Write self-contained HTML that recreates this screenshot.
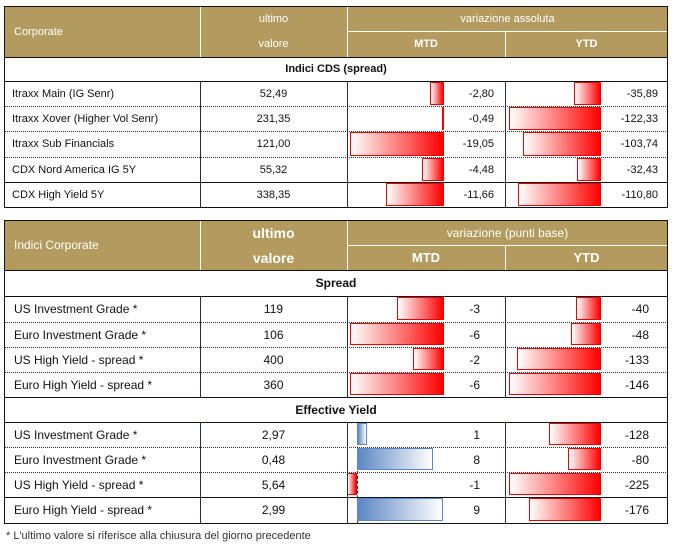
<!DOCTYPE html>
<html><head><meta charset="utf-8"><style>
body{margin:0;width:673px;height:545px;background:#fff;position:relative;overflow:hidden;font-family:"Liberation Sans",sans-serif;color:#111}
div{position:absolute;box-sizing:border-box}
.hd{background:#b39a5f;color:#fff}
.t{white-space:nowrap;font-size:11px;line-height:12px}
</style></head><body>
<script>
const t1Names=["Itraxx Main (IG Senr)","Itraxx Xover (Higher Vol Senr)","Itraxx Sub Financials","CDX Nord America IG 5Y","CDX High Yield 5Y"];
const t1Last=["52,49","231,35","121,00","55,32","338,35"];
const t1Mtd=[-2.80,-0.49,-19.05,-4.48,-11.66];
const t1Ytd=[-35.89,-122.33,-103.74,-32.43,-110.80];
const spNames=["US Investment Grade *","Euro Investment Grade *","US High Yield  - spread *","Euro High Yield  - spread *"];
const spLast=["119","106","400","360"];
const spMtd=[-3,-6,-2,-6];
const spYtd=[-40,-48,-133,-146];
const eyNames=["US Investment Grade *","Euro Investment Grade *","US High Yield  - spread *","Euro High Yield  - spread *"];
const eyLast=["2,97","0,48","5,64","2,99"];
const eyMtd=[1,8,-1,9];
const eyYtd=[-128,-80,-225,-176];

const B=document.body;
function el(x,y,w,h,cls,txt,name,css){const d=document.createElement('div');d.style.cssText=`left:${x}px;top:${y}px;width:${w}px;height:${h}px;`+(css||'');if(cls)d.className=cls;if(txt!==undefined)d.textContent=txt;


B.appendChild(d);return d;}
function fmt(v,dec){return dec?v.toFixed(2).replace('.',','):String(v);}
function maxAbs(a){return Math.max(...a.map(Math.abs));}
function bar(zero,scale,v,y,h,name){
  const w=Math.abs(v)*scale;
  if(v<0){el(zero-w,y,Math.max(w,2),h,'','',name,'background:linear-gradient(to right,#fff,#f00);border:1px solid #e00;');}
  else{el(zero,y,Math.max(w,2),h,'','',name,'background:linear-gradient(to right,#5c86c4,#fff);border:1px solid #5c86c4;');}
}
function txt(x,y,w,h,s,align,name,css){el(x,y,w,h,'t',s,name,`display:flex;align-items:center;justify-content:${align};`+(css||''));}
function vline(x,y1,y2){el(x,y1,1,y2-y1,'',undefined,'column-divider','background:#1d3045');}
function hline(y,dotted){el(4,y,664,1,'',undefined,'row-divider',dotted?'border-top:1px dotted #333;height:1px':'background:#111');}

// ---------- Table 1 ----------
el(4,6,664,51,'hd',undefined,'table1-header');
txt(14,6,180,51,'Corporate','flex-start','header-corporate','color:#fff');
txt(200,6,147,25,'ultimo','center','header-ultimo','color:#fff');
txt(200,31,147,26,'valore','center','header-valore','color:#fff');
txt(347,6,321,25,'variazione assoluta','center','header-variazione','color:#fff');
el(347,31,321,1,'',undefined,'header-subline','background:#fff');
txt(347,31,158,26,'MTD','center','header-mtd','color:#fff;font-weight:bold');
txt(505,31,163,26,'YTD','center','header-ytd','color:#fff;font-weight:bold');
el(200,6,1,51,'',undefined,'header-divider','background:#fff');
el(347,6,1,51,'',undefined,'header-divider','background:#fff');
el(505,31,1,26,'',undefined,'header-divider','background:#fff');
txt(4,57,664,24,'Indici CDS (spread)','center','section-cds','font-weight:bold');
hline(57,false);hline(81,false);
const r1=[81,106,131,157,182,207];
const s1m=94/maxAbs(t1Mtd), s1y=92/maxAbs(t1Ytd);
for(let i=0;i<t1Names.length;i++){
  const y=r1[i],h=r1[i+1]-y;
  txt(12,y,188,h,t1Names[i],'flex-start','row-name');
  txt(200,y,147,h,t1Last[i],'center','row-last');
  bar(444,s1m,t1Mtd[i],y+1,h-2,'bar-mtd');
  txt(444,y,50,h,fmt(t1Mtd[i],1),'flex-end','value-mtd');
  bar(601,s1y,t1Ytd[i],y+1,h-2,'bar-ytd');
  txt(597,y,61,h,fmt(t1Ytd[i],1),'flex-end','value-ytd');
  if(i<4)hline(r1[i+1],i!==3);
}
hline(207,false);
vline(200,81,207);vline(347,81,207);vline(505,81,207);
el(4,6,664,202,'',undefined,'table1-border','border:1px solid #111');

// ---------- Table 2 ----------
el(4,220,664,50,'hd',undefined,'table2-header');
txt(14,220,180,50,'Indici Corporate','flex-start','header-indici','color:#fff;font-size:12px');
txt(200,220,147,25,'ultimo','center','header-ultimo','color:#fff;font-size:14px;font-weight:bold');
txt(200,245,147,25,'valore','center','header-valore','color:#fff;font-size:14px;font-weight:bold');
txt(347,220,321,25,'variazione (punti base)','center','header-variazione','color:#fff;font-size:12px');
el(347,245,321,1,'',undefined,'header-subline','background:#fff');
txt(347,245,158,25,'MTD','center','header-mtd','color:#fff;font-weight:bold;font-size:13px');
txt(505,245,163,25,'YTD','center','header-ytd','color:#fff;font-weight:bold;font-size:13px');
el(200,220,1,50,'',undefined,'header-divider','background:#fff');
el(347,220,1,50,'',undefined,'header-divider','background:#fff');
el(505,245,1,25,'',undefined,'header-divider','background:#fff');
txt(4,270,664,26,'Spread','center','section-spread','font-weight:bold;font-size:12px');
hline(270,false);hline(296,false);
const r2=[296,322,347,372,397];
const s2m=94/maxAbs(spMtd), s2y=92/maxAbs(spYtd);
for(let i=0;i<spNames.length;i++){
  const y=r2[i],h=r2[i+1]-y;
  txt(14,y,186,h,spNames[i],'flex-start','row-name','font-size:12px');
  txt(200,y,147,h,spLast[i],'center','row-last','font-size:12px');
  bar(444,s2m,spMtd[i],y+1,h-3,'bar-mtd');
  txt(440,y,40,h,fmt(spMtd[i],0),'flex-end','value-mtd','font-size:12px');
  bar(601,s2y,spYtd[i],y+1,h-3,'bar-ytd');
  txt(603,y,46,h,fmt(spYtd[i],0),'flex-end','value-ytd','font-size:12px');
  if(i<3)hline(r2[i+1],true);
}
hline(397,false);
vline(200,296,397);vline(347,296,397);vline(505,296,397);
txt(4,397,664,25,'Effective Yield','center','section-effective-yield','font-weight:bold;font-size:12px');
hline(422,false);
const r3=[422,447,472,497,523];
const s3m=86/maxAbs(eyMtd), s3y=92/maxAbs(eyYtd);
el(357,422,1,101,'',undefined,'zero-axis','border-left:1px dashed #222');
for(let i=0;i<eyNames.length;i++){
  const y=r3[i],h=r3[i+1]-y;
  txt(14,y,186,h,eyNames[i],'flex-start','row-name','font-size:12px');
  txt(200,y,147,h,eyLast[i],'center','row-last','font-size:12px');
  bar(357,s3m,eyMtd[i],y+1,h-3,'bar-mtd');
  txt(440,y,40,h,fmt(eyMtd[i],0),'flex-end','value-mtd','font-size:12px');
  bar(601,s3y,eyYtd[i],y+1,h-3,'bar-ytd');
  txt(603,y,46,h,fmt(eyYtd[i],0),'flex-end','value-ytd','font-size:12px');
  if(i<3)hline(r3[i+1],i!==2);
}
vline(200,422,523);vline(347,422,523);vline(505,422,523);
el(4,220,664,304,'',undefined,'table2-border','border:1px solid #111');
txt(6,529,400,14,"* L'ultimo valore si riferisce alla chiusura del giorno precedente",'flex-start','footnote','font-size:11px;color:#333');
</script>
</body></html>
